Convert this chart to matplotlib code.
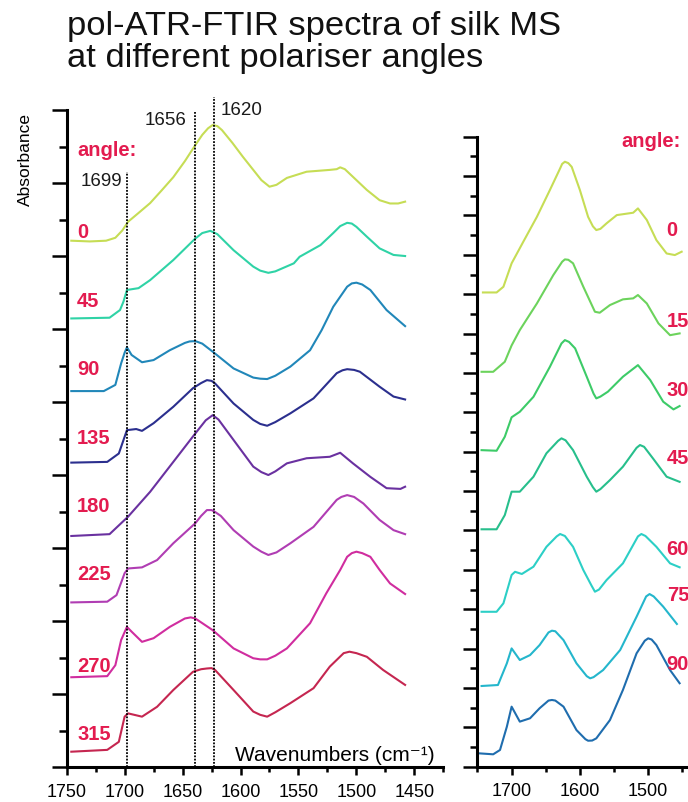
import matplotlib.pyplot as plt
from matplotlib.ticker import MultipleLocator

plt.rcParams['font.family'] = ['Liberation Sans', 'DejaVu Sans']

# ---------------- left panel: angles 0..315 (wavenumber, offset absorbance)
left_angles = ['0', '45', '90', '135', '180', '225', '270', '315']
left_colors = ['#c6dd55', '#2fd3a6', '#2187b9', '#2b2f8e',
               '#6a31a0', '#b03db3', '#d02d9f', '#c52650']
left_label_y = [14.64, 12.75, 10.90, 9.01, 7.15, 5.27, 2.75, 0.90]

left_0 = [(1746, 14.42), (1730, 14.40), (1716, 14.42), (1708, 14.50), (1702, 14.70),
          (1697, 14.94), (1688, 15.18), (1678, 15.45), (1668, 15.80), (1658, 16.16),
          (1648, 16.60), (1639, 17.04), (1633, 17.32), (1628, 17.50), (1624, 17.59),
          (1620, 17.56), (1616, 17.45), (1607, 17.10), (1598, 16.72), (1589, 16.36),
          (1582, 16.08), (1575, 15.90), (1569, 15.95), (1560, 16.14), (1543, 16.31),
          (1523, 16.36), (1517, 16.38), (1514, 16.43), (1510, 16.38), (1503, 16.17),
          (1491, 15.81), (1480, 15.53), (1471, 15.44), (1464, 15.44), (1458, 15.49)]
left_45 = [(1746, 12.29), (1713, 12.31), (1704, 12.52), (1701, 12.75), (1698, 13.07),
           (1688, 13.12), (1678, 13.34), (1658, 13.89), (1639, 14.48), (1633, 14.63),
           (1626, 14.69), (1620, 14.60), (1606, 14.16), (1589, 13.71), (1583, 13.60),
           (1576, 13.54), (1570, 13.58), (1554, 13.80), (1549, 13.98), (1531, 14.30),
           (1520, 14.63), (1514, 14.82), (1508, 14.91), (1504, 14.89), (1500, 14.80),
           (1491, 14.53), (1480, 14.21), (1468, 14.03), (1458, 14.00)]
left_90 = [(1746, 10.30), (1718, 10.30), (1708, 10.47), (1703, 11.06), (1700, 11.35),
           (1698, 11.50), (1694, 11.29), (1685, 11.09), (1675, 11.15), (1661, 11.42),
           (1648, 11.62), (1644, 11.66), (1639, 11.67), (1633, 11.60), (1624, 11.38),
           (1606, 10.92), (1589, 10.67), (1583, 10.64), (1577, 10.63), (1570, 10.72),
           (1557, 10.97), (1540, 11.42), (1530, 11.97), (1520, 12.61), (1508, 13.16),
           (1504, 13.25), (1500, 13.27), (1495, 13.22), (1488, 13.07), (1474, 12.52),
           (1458, 12.08)]
left_135 = [(1746, 8.34), (1715, 8.36), (1705, 8.59), (1698, 9.23), (1690, 9.26),
            (1685, 9.21), (1675, 9.42), (1658, 9.87), (1641, 10.38), (1634, 10.52),
            (1629, 10.60), (1625, 10.58), (1622, 10.51), (1606, 9.96), (1589, 9.51),
            (1583, 9.40), (1577, 9.35), (1570, 9.45), (1557, 9.69), (1537, 10.10),
            (1517, 10.79), (1512, 10.87), (1508, 10.90), (1502, 10.88), (1497, 10.83),
            (1480, 10.42), (1468, 10.15), (1458, 10.07)]
left_180 = [(1746, 6.33), (1713, 6.38), (1697, 6.86), (1678, 7.54), (1658, 8.36),
            (1639, 9.14), (1630, 9.50), (1624, 9.64), (1619, 9.52), (1606, 8.96),
            (1589, 8.23), (1582, 8.08), (1576, 8.00), (1570, 8.10), (1560, 8.32),
            (1543, 8.46), (1523, 8.50), (1514, 8.61), (1503, 8.32), (1488, 7.95),
            (1474, 7.64), (1462, 7.62), (1458, 7.68)]
left_225 = [(1746, 4.51), (1715, 4.53), (1707, 4.71), (1700, 5.31), (1697, 5.44),
            (1685, 5.47), (1672, 5.67), (1658, 6.13), (1639, 6.68), (1634, 6.88),
            (1629, 7.04), (1625, 7.04), (1622, 6.99), (1617, 6.88), (1606, 6.49),
            (1589, 6.04), (1582, 5.90), (1576, 5.81), (1569, 5.88), (1557, 6.13),
            (1537, 6.58), (1517, 7.32), (1513, 7.40), (1508, 7.45), (1502, 7.40),
            (1494, 7.22), (1480, 6.77), (1468, 6.49), (1458, 6.38)]
left_270 = [(1746, 2.46), (1715, 2.49), (1708, 2.79), (1703, 3.48), (1698, 3.84),
            (1694, 3.71), (1685, 3.43), (1675, 3.53), (1661, 3.84), (1648, 4.07),
            (1643, 4.10), (1639, 4.07), (1624, 3.75), (1606, 3.25), (1589, 2.98),
            (1583, 2.95), (1577, 2.95), (1570, 3.05), (1560, 3.25), (1540, 3.94),
            (1526, 4.76), (1514, 5.40), (1508, 5.76), (1504, 5.86), (1500, 5.90),
            (1495, 5.86), (1488, 5.76), (1480, 5.40), (1471, 5.03), (1458, 4.74)]
left_315 = [(1746, 0.42), (1715, 0.47), (1705, 0.69), (1700, 1.38), (1697, 1.47),
            (1685, 1.38), (1672, 1.65), (1658, 2.11), (1641, 2.61), (1634, 2.68),
            (1629, 2.70), (1625, 2.71), (1622, 2.66), (1606, 2.11), (1589, 1.52),
            (1583, 1.43), (1577, 1.38), (1570, 1.50), (1557, 1.75), (1537, 2.16),
            (1523, 2.75), (1511, 3.12), (1506, 3.16), (1500, 3.12), (1491, 3.02),
            (1477, 2.66), (1458, 2.25)]
left_curves = [left_0, left_45, left_90, left_135, left_180, left_225, left_270, left_315]

# dotted marker lines (drawn position, top, label)
marker_pos = [1698, 1639, 1623]
marker_top = [16.31, 17.95, 18.36]
marker_text = ['1699', '1656', '1620']
marker_text_x = [1702, 1647, 1617]
marker_text_y = [16.03, 17.70, 17.98]
marker_ha = ['right', 'right', 'left']

# ---------------- right panel: angles 0..90
right_angles = ['0', '15', '30', '45', '60', '75', '90']
right_colors = ['#c6dd55', '#6cd35c', '#3dcb68', '#27bf8c', '#2ccfc6', '#24b6cc', '#1f6dae']
right_label_y = [27.22, 22.64, 19.10, 15.66, 11.01, 8.72, 5.20]

right_0 = [(1742, 24.09), (1722, 24.09), (1712, 24.38), (1700, 25.57), (1683, 26.66),
           (1663, 27.93), (1644, 29.29), (1629, 30.39), (1626, 30.62), (1622, 30.73),
           (1617, 30.66), (1612, 30.47), (1600, 29.29), (1588, 27.93), (1581, 27.45),
           (1576, 27.26), (1570, 27.32), (1561, 27.60), (1546, 28.02), (1522, 28.14),
           (1515, 28.36), (1502, 27.77), (1488, 26.75), (1473, 26.07), (1461, 25.99),
           (1451, 26.16)]
right_15 = [(1744, 20.06), (1727, 20.06), (1710, 20.57), (1700, 21.40), (1688, 22.18),
            (1663, 23.53), (1639, 24.97), (1626, 25.65), (1622, 25.77), (1617, 25.75),
            (1610, 25.57), (1595, 24.38), (1578, 23.11), (1571, 23.06), (1556, 23.45),
            (1537, 23.74), (1522, 23.79), (1515, 23.96), (1502, 23.53), (1485, 22.52),
            (1468, 21.92), (1454, 22.01)]
right_30 = [(1744, 16.08), (1722, 16.05), (1710, 16.76), (1700, 17.75), (1688, 18.03),
            (1668, 18.79), (1644, 20.31), (1627, 21.50), (1622, 21.67), (1616, 21.58),
            (1607, 21.25), (1590, 19.81), (1580, 18.95), (1576, 18.71), (1570, 18.80),
            (1559, 19.05), (1537, 19.81), (1515, 20.40), (1497, 19.64), (1478, 18.54),
            (1463, 18.15), (1454, 18.32)]
right_45 = [(1744, 12.06), (1722, 12.06), (1710, 12.78), (1700, 13.97), (1688, 13.97),
            (1668, 14.73), (1649, 15.92), (1632, 16.55), (1627, 16.68), (1621, 16.58),
            (1610, 16.08), (1590, 14.73), (1581, 14.20), (1576, 13.97), (1570, 14.10),
            (1556, 14.56), (1537, 15.24), (1517, 16.20), (1512, 16.34), (1506, 16.25),
            (1493, 15.66), (1473, 14.73), (1454, 14.47)]
right_60 = [(1744, 7.87), (1722, 7.87), (1712, 8.30), (1700, 9.74), (1695, 9.90),
            (1685, 9.79), (1668, 10.16), (1649, 11.17), (1634, 11.70), (1629, 11.82),
            (1622, 11.72), (1610, 11.17), (1595, 9.99), (1583, 9.20), (1578, 8.89),
            (1572, 9.00), (1561, 9.48), (1537, 10.33), (1515, 11.70), (1510, 11.82),
            (1504, 11.72), (1488, 11.17), (1468, 10.33), (1454, 10.13)]
right_75 = [(1744, 4.10), (1720, 4.15), (1707, 5.25), (1700, 6.01), (1688, 5.42),
            (1673, 5.67), (1659, 6.18), (1646, 6.82), (1641, 6.91), (1636, 6.88),
            (1624, 6.43), (1605, 5.25), (1590, 4.60), (1585, 4.49), (1580, 4.55),
            (1566, 4.91), (1541, 5.93), (1517, 7.62), (1503, 8.65), (1498, 8.77),
            (1492, 8.65), (1478, 8.13), (1458, 7.25)]
right_90 = [(1748, 0.68), (1727, 0.63), (1717, 0.85), (1707, 2.03), (1700, 3.05),
            (1688, 2.29), (1673, 2.46), (1659, 2.97), (1646, 3.36), (1641, 3.39),
            (1636, 3.36), (1624, 3.05), (1605, 1.86), (1592, 1.40), (1588, 1.32),
            (1582, 1.33), (1576, 1.44), (1556, 2.37), (1537, 3.90), (1517, 5.76),
            (1505, 6.40), (1500, 6.52), (1495, 6.46), (1488, 6.18), (1468, 4.91),
            (1454, 4.24)]
right_curves = [right_0, right_15, right_30, right_45, right_60, right_75, right_90]

label_red = '#e31b4f'

fig = plt.figure(figsize=(6.88, 8.02), dpi=100)


def style_axes(ax, ylen_major, ylen_minor):
    for s in ['top', 'right']:
        ax.spines[s].set_visible(False)
    for s in ['left', 'bottom']:
        ax.spines[s].set_linewidth(2.2)
    ax.tick_params(axis='y', which='major', length=ylen_major, width=1.8, labelleft=False)
    ax.tick_params(axis='y', which='minor', length=ylen_minor, width=1.8)
    ax.tick_params(axis='x', which='major', length=6, width=1.8, pad=6, labelsize=13)
    ax.tick_params(axis='x', which='minor', length=3.5, width=1.8)


# ---- left
axL = fig.add_axes([0.0969, 0.0436, 0.5475, 0.8192])
for pts, c in zip(left_curves, left_colors):
    axL.plot([p[0] for p in pts], [p[1] for p in pts], color=c, lw=1.5)
for xp, top in zip(marker_pos, marker_top):
    axL.plot([xp, xp], [0, top], color='black', lw=1.3, ls=(0, (1, 0.8)), clip_on=False)
for t, tx, ty, ha in zip(marker_text, marker_text_x, marker_text_y, marker_ha):
    axL.text(tx, ty, t, ha=ha, va='center', fontsize=13.5, color='#1a1a1a')
axL.text(1741, 16.90, 'angle:', ha='left', va='center', fontsize=14.5,
         fontweight='bold', color=label_red)
for lab, ly in zip(left_angles, left_label_y):
    axL.text(1741, ly, lab, ha='left', va='center', fontsize=14.5,
             fontweight='bold', color=label_red)
axL.set_xlim(1750, 1425)
axL.set_ylim(0, 18)
axL.xaxis.set_major_locator(MultipleLocator(50))
axL.xaxis.set_minor_locator(MultipleLocator(25))
axL.yaxis.set_major_locator(MultipleLocator(2))
axL.yaxis.set_minor_locator(MultipleLocator(1))
style_axes(axL, 11, 6)
axL.text(0.978, 0.018, 'Wavenumbers (cm⁻¹)', transform=axL.transAxes,
         ha='right', va='center', fontsize=15)

# ---- right
axR = fig.add_axes([0.694, 0.044, 0.3077, 0.7855])
for pts, c in zip(right_curves, right_colors):
    axR.plot([p[0] for p in pts], [p[1] for p in pts], color=c, lw=1.5)
axR.text(1540, 31.74, 'angle:', ha='left', va='center', fontsize=14.5,
         fontweight='bold', color=label_red)
for lab, ly in zip(right_angles, right_label_y):
    axR.text(1473, ly, lab, ha='left', va='center', fontsize=14.5,
             fontweight='bold', color=label_red)
axR.set_xlim(1750, 1440)
axR.set_ylim(0, 32)
axR.xaxis.set_major_locator(MultipleLocator(100))
axR.xaxis.set_minor_locator(MultipleLocator(50))
axR.yaxis.set_major_locator(MultipleLocator(2))
axR.yaxis.set_minor_locator(MultipleLocator(1))
style_axes(axR, 10, 5)

# ---- texts
fig.text(25 / 688, 1 - 160 / 802, 'Absorbance', rotation=90, ha='center', va='center',
         fontsize=12.5)
fig.text(67 / 688, 1 - 35 / 802, 'pol-ATR-FTIR spectra of silk MS', ha='left',
         va='baseline', fontsize=24.8, color='#111111')
fig.text(67 / 688, 1 - 67 / 802, 'at different polariser angles', ha='left',
         va='baseline', fontsize=24.8, color='#111111')

fig.savefig('out.png', dpi=100)
